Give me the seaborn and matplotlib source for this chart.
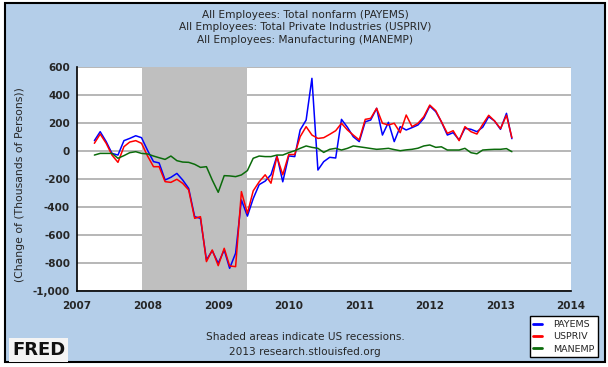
import matplotlib
matplotlib.use("Agg")
import matplotlib.pyplot as plt
import matplotlib.dates as mdates
import matplotlib.ticker as mticker
from matplotlib.patches import Rectangle
import seaborn as sns
import pandas as pd

# variação mensal (milhares de pessoas), abr/2007 a mar/2013
meses = pd.date_range("2007-04-01", "2013-03-01", freq="MS")

payems = [74, 138, 67, -17, -29, 74, 90, 109, 95,
          5, -76, -85, -207, -188, -160, -207, -267, -469, -481, -778, -712,
          -802, -707, -838, -730, -350, -465, -340, -240, -215, -170, -35, -220,
          -35, -40, 150, 221, 519, -136, -76, -45, -50, 226, 169, 102,
          67, 209, 221, 305, 114, 205, 67, 174, 150, 167, 186, 233,
          321, 281, 209, 114, 131, 79, 162, 155, 138, 170, 245, 215,
          155, 269, 88]

uspriv = [55, 121, 55, -29, -81, 31, 64, 74, 55,
          -35, -112, -112, -219, -224, -202, -231, -278, -481, -469, -790, -707,
          -819, -695, -821, -826, -290, -445, -285, -220, -170, -230, -40, -170,
          -25, -25, 102, 174, 114, 90, 95, 119, 145, 198, 150, 114,
          79, 226, 233, 305, 198, 186, 198, 131, 257, 174, 198, 245,
          328, 288, 209, 126, 145, 74, 174, 138, 121, 190, 255, 215,
          160, 255, 95]

manemp = [-29, -17, -17, -17, -52, -33, -12, -5, -17,
          -21, -36, -48, -60, -36, -69, -79, -81, -95, -117, -112, -207,
          -295, -176, -178, -183, -171, -140, -52, -36, -40, -40, -29, -29,
          -12, 2, 19, 36, 26, 19, -10, 12, 19, 7, 19, 36,
          30, 24, 18, 12, 15, 19, 10, 2, 8, 12, 20, 36,
          43, 26, 30, 7, 7, 7, 19, -12, -20, 7, 10, 12,
          12, 17, -5]

series = ["PAYEMS", "USPRIV", "MANEMP"]
cores = ["#0000ff", "#ff0000", "#0b6b0b"]
titulos = ["All Employees: Total nonfarm (PAYEMS)",
           "All Employees: Total Private Industries (USPRIV)",
           "All Employees: Manufacturing (MANEMP)"]
recessao = ("2007-12-01", "2009-06-01")
yticks = list(range(-1000, 601, 200))

df = pd.DataFrame({"data": meses, "PAYEMS": payems, "USPRIV": uspriv, "MANEMP": manemp})
df = df.melt(id_vars="data", var_name="serie", value_name="valor")

sns.set_style("white")
plt.rcParams["font.family"] = ["DejaVu Sans"]

W, H = 608, 367
fig = plt.figure(figsize=(W / 100, H / 100), dpi=100, facecolor="white")

# painel azul com borda preta
fig.patches.append(Rectangle((5 / W, 1 - 362 / H), 600 / W, 359 / H, transform=fig.transFigure,
                             facecolor="#b4cee9", edgecolor="black", lw=1.5, zorder=-5))

ax = fig.add_axes([77 / W, 1 - 291 / H, (571 - 77) / W, (291 - 67) / H])
ax.set_zorder(2)
ax.set_facecolor("white")
ax.set_axisbelow(True)
ax.axvspan(pd.Timestamp(recessao[0]), pd.Timestamp(recessao[1]), color="#bfbfbf", lw=0, zorder=1)

sns.lineplot(data=df, x="data", y="valor", hue="serie", hue_order=series,
             palette=dict(zip(series, cores)), lw=1.1, ax=ax, zorder=3)

ax.set_xlim(pd.Timestamp("2007-01-01"), pd.Timestamp("2014-01-01"))
ax.set_ylim(-1000, 600)
ax.set_yticks(yticks)
ax.yaxis.set_major_formatter(mticker.FuncFormatter(lambda v, p: f"{int(v):,}"))
ax.xaxis.set_major_locator(mdates.YearLocator())
ax.xaxis.set_major_formatter(mdates.DateFormatter("%Y"))
ax.yaxis.grid(True, color="#aaaaaa", lw=1.2)
ax.xaxis.grid(False)
for s in ["top", "right"]:
    ax.spines[s].set_visible(False)
for s in ["left", "bottom"]:
    ax.spines[s].set_color("black")
    ax.spines[s].set_linewidth(1.2)
ax.tick_params(axis="both", direction="in", length=4, width=1, color="black",
               labelsize=7.5, pad=5)
ax.tick_params(axis="x", pad=7)
for t in ax.get_xticklabels() + ax.get_yticklabels():
    t.set_fontweight("bold")
ax.set_xlabel("")
ax.set_ylabel("")

fig.text(20 / W, 1 - 185 / H, "(Change of (Thousands of Persons))", rotation=90,
         ha="center", va="center", fontsize=7.8)

for i, t in enumerate(titulos):
    fig.text(305 / W, 1 - (15 + 12.5 * i) / H, t, ha="center", va="center", fontsize=7.6)

fig.text(305 / W, 1 - 337 / H, "Shaded areas indicate US recessions.", ha="center", va="center", fontsize=7.6)
fig.text(305 / W, 1 - 352 / H, "2013 research.stlouisfed.org", ha="center", va="center", fontsize=7.6)

fig.text(12 / W, 1 - 350 / H, "FRED", ha="left", va="center", fontsize=13, fontweight="bold",
         color="#111111", bbox=dict(boxstyle="square,pad=0.15", facecolor="#f4f4f4", edgecolor="none"))

sns.move_legend(ax, loc="lower right", bbox_to_anchor=(603 / W, 5 / H), bbox_transform=fig.transFigure,
                title=None, frameon=True, fontsize=6.8, handlelength=0.9, handletextpad=1.2,
                labelspacing=0.35, borderpad=0.4, fancybox=False, edgecolor="black",
                framealpha=1, facecolor="white")
leg = ax.get_legend()
leg.get_frame().set_linewidth(1.0)
for h in leg.legend_handles:
    h.set_linewidth(2)

fig.savefig("out.png", dpi=100, facecolor="white")
